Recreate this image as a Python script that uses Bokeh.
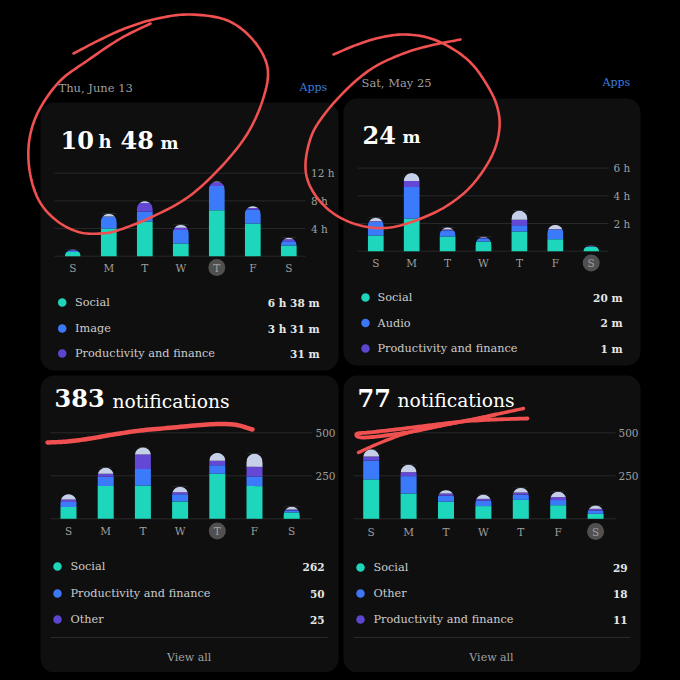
import numpy as np
from bokeh.embed import file_html
from bokeh.models import Range1d
from bokeh.plotting import figure
from bokeh.resources import INLINE
from bokeh.core.properties import value

FONT = "DejaVu Serif"
days = ["S", "M", "T", "W", "T", "F", "S"]

# --- panel values (stack order: first, second, third, remainder) ---
tl_social = [0.62, 4.00, 5.00, 1.83, 6.63, 4.72, 1.54]
tl_image = [0.22, 1.70, 1.46, 1.97, 3.52, 2.03, 0.63]
tl_prod = [0.08, 0.05, 1.24, 0.30, 0.52, 0.20, 0.29]
tl_other = [0.04, 0.37, 0.25, 0.43, 0.13, 0.28, 0.19]

tr_social = [1.13, 2.34, 1.06, 0.70, 1.42, 0.87, 0.33]
tr_audio = [0.97, 2.29, 0.43, 0.22, 0.46, 0.67, 0.03]
tr_prod = [0.07, 0.43, 0.08, 0.07, 0.39, 0.05, 0.02]
tr_other = [0.24, 0.58, 0.14, 0.05, 0.65, 0.31, 0.02]

bl_social = [68, 190, 194, 101, 262, 190, 37]
bl_prod = [29, 54, 95, 42, 50, 56, 11]
bl_other = [15, 18, 85, 12, 25, 56, 6]
bl_rest = [31, 35, 41, 31, 46, 76, 16]

br_social = [229, 147, 99, 74, 110, 79, 29]
br_other = [110, 101, 35, 31, 30, 30, 18]
br_prod = [23, 23, 13, 11, 13, 17, 11]
br_rest = [41, 43, 20, 24, 27, 31, 19]

tl_ticks, tl_tick_labels = [4, 8, 12], ["4 h", "8 h", "12 h"]
tr_ticks, tr_tick_labels = [2, 4, 6], ["2 h", "4 h", "6 h"]
bl_ticks, bl_tick_labels = [250, 500], ["250", "500"]
br_ticks, br_tick_labels = [250, 500], ["250", "500"]

tl_legend, tl_legend_values = ["Social", "Image", "Productivity and finance"], ["6 h 38 m", "3 h 31 m", "31 m"]
tr_legend, tr_legend_values = ["Social", "Audio", "Productivity and finance"], ["20 m", "2 m", "1 m"]
bl_legend, bl_legend_values = ["Social", "Productivity and finance", "Other"], ["262", "50", "25"]
br_legend, br_legend_values = ["Social", "Other", "Productivity and finance"], ["29", "18", "11"]

STACK = ["#1dd6bb", "#3b7bfb", "#6547d6", "#c5d0e8"]
DOTS = ["#1fd4b8", "#3c78f5", "#5d45d0"]
CARD = "#0f0f0f"
GRID = "#282828"
MUTED = "#9f9f9f"

panels = [
    dict(name="tl", series=[tl_social, tl_image, tl_prod, tl_other], c0=72.3, step=36.0, bw=15.7,
         base=255.7, k=6.92, ticks=tl_ticks, tick_labels=tl_tick_labels, gx=(54, 305), lx=310.5,
         day_y=267, hi=4, leg=tl_legend, legv=tl_legend_values, leg_y=[302, 328, 353],
         dot_x=61.7, txt_x=74.5, right=319),
    dict(name="tr", series=[tr_social, tr_audio, tr_prod, tr_other], c0=375.3, step=35.9, bw=15.7,
         base=250.7, k=13.85, ticks=tr_ticks, tick_labels=tr_tick_labels, gx=(357, 608), lx=613,
         day_y=262.5, hi=6, leg=tr_legend, legv=tr_legend_values, leg_y=[297, 322.5, 348],
         dot_x=365, txt_x=377, right=622),
    dict(name="bl", series=[bl_social, bl_prod, bl_other, bl_rest], c0=68.0, step=37.2, bw=16,
         base=518.3, k=0.172, ticks=bl_ticks, tick_labels=bl_tick_labels, gx=(50, 312), lx=315,
         day_y=530.5, hi=4, leg=bl_legend, legv=bl_legend_values, leg_y=[566, 593, 619],
         dot_x=57, txt_x=70, right=324),
    dict(name="br", series=[br_social, br_other, br_prod, br_rest], c0=370.7, step=37.4, bw=16,
         base=518.3, k=0.172, ticks=br_ticks, tick_labels=br_tick_labels, gx=(353, 615), lx=618,
         day_y=531, hi=6, leg=br_legend, legv=br_legend_values, leg_y=[567, 593, 619],
         dot_x=360, txt_x=373, right=627),
]

# The figure's default ranges read in page pixels of the shot (this page draws from its corner).
L, R, T, B = 0, 672, 0, 672
p = figure(width=R - L, height=B - T, x_range=Range1d(L, R), y_range=Range1d(B, T),
           output_backend="svg", toolbar_location=None, x_axis_type=None, y_axis_type=None,
           min_border=0, background_fill_color="#000000", border_fill_color="#000000",
           outline_line_color=None)
p.xgrid.visible = False
p.ygrid.visible = False


def txt(x, y, s, size, color=MUTED, style="normal", align="left", **kw):
    p.text(x=x if isinstance(x, list) else [x], y=y if isinstance(y, list) else [y],
           text=s if isinstance(s, list) else [s], text_font=value(FONT), text_font_size=f"{size}px",
           text_font_style=style, text_color=color, text_align=align, text_baseline="middle", **kw)


# cards
p.quad(left=[40, 343, 40, 343], right=[338, 640, 338, 640], top=[102, 98, 375, 375],
       bottom=[370, 365, 672, 672], fill_color=CARD, line_color=None, border_radius=14)

# dates & links
txt(58, 87, "Thu, June 13", 11.5)
txt(299, 87, "Apps", 11, color="#3b7ddd")
txt(361, 82, "Sat, May 25", 11.5)
txt(602, 82, "Apps", 11, color="#3b7ddd")

# headline numbers
txt(60, 139, "10", 24, "#ffffff", "bold")
txt(98, 141, "h", 18, "#ffffff", "bold")
txt(120, 139, "48", 24, "#ffffff", "bold")
txt(160, 142, "m", 17, "#ffffff", "bold")
txt(362, 134, "24", 24, "#ffffff", "bold")
txt(402, 136, "m", 17, "#ffffff", "bold")
txt(54, 397, "383", 24, "#ffffff", "bold")
txt(112, 401, "notifications", 18.7, "#ffffff")
txt(357, 397, "77", 24, "#ffffff", "bold")
txt(397, 400, "notifications", 18.7, "#ffffff")

for pn in panels:
    xn, yn = pn["name"] + "_x", pn["name"] + "_y"
    c0, step, base, k = pn["c0"], pn["step"], pn["base"], pn["k"]
    p.extra_x_ranges[xn] = Range1d((L - c0) / step, (R - c0) / step)
    p.extra_y_ranges[yn] = Range1d((base - B) / k, (base - T) / k)
    idx = list(range(len(days)))

    # value gridlines and baseline
    levels = [0] + pn["ticks"]
    p.segment(x0=[pn["gx"][0]] * len(levels), x1=[pn["gx"][1]] * len(levels), y0=levels, y1=levels,
              y_range_name=yn, line_color=GRID, line_width=1)
    txt([pn["lx"]] * len(pn["ticks"]), pn["ticks"], pn["tick_labels"], 10.5, y_range_name=yn)

    # stacked bars
    bottom = np.zeros(len(days))
    for vals, col in zip(pn["series"], STACK):
        top = bottom + np.array(vals, dtype=float)
        p.vbar(x=idx, bottom=bottom.tolist(), top=top.tolist(), width=pn["bw"] / step,
               fill_color=col, line_color=None, x_range_name=xn, y_range_name=yn)
        bottom = top

    # round the tops: card-coloured corner pieces computed from each bar's total
    w = pn["bw"] / 2 / step
    xs, ys = [], []
    theta = np.linspace(0, np.pi / 2, 12)
    for i, total in enumerate(bottom):
        ry = min(pn["bw"] / 2 / k, total)
        for sign in (-1, 1):
            ax = i + sign * w * np.cos(theta)
            ay = total - ry + ry * np.sin(theta)
            e = 0.6
            xs.append(ax.tolist() + [i + sign * (w + e / step)] * 2)
            ys.append(ay.tolist() + [total + e / k, total - ry])
    p.patches(xs=xs, ys=ys, fill_color=CARD, line_color=None, x_range_name=xn, y_range_name=yn)

    # weekday labels and the highlighted day
    p.scatter(x=[pn["hi"]], y=[pn["day_y"]], size=17, marker="circle", fill_color="#505050",
              line_color=None, x_range_name=xn)
    txt(idx, [pn["day_y"]] * len(days), days, 10.5, align="center", x_range_name=xn)

    # legend rows
    p.scatter(x=[pn["dot_x"]] * 3, y=pn["leg_y"], size=8.5, marker="circle", fill_color=DOTS, line_color=None)
    txt([pn["txt_x"]] * 3, pn["leg_y"], pn["leg"], 11.3, color="#cccccc")
    txt([pn["right"]] * 3, pn["leg_y"], pn["legv"], 10.5, color="#e6e6e6", style="bold", align="right")

# dividers and footers
p.segment(x0=[50, 353], x1=[327, 630], y0=[637, 637], y1=[637, 637], line_color="#2a2a2a", line_width=1)
txt([188.7, 491], [656.7, 656.7], ["View all", "View all"], 11, color="#a0a0a0", align="center")


# --- hand-drawn red marks (page pixels) ---
def smooth(pts, n=10):
    a = np.array(pts, dtype=float)
    a = np.vstack([2 * a[0] - a[1], a, 2 * a[-1] - a[-2]])
    out = []
    for i in range(1, len(a) - 2):
        for t in np.linspace(0, 1, n, endpoint=False):
            out.append(0.5 * ((2 * a[i]) + (a[i + 1] - a[i - 1]) * t
                              + (2 * a[i - 1] - 5 * a[i] + 4 * a[i + 1] - a[i + 2]) * t ** 2
                              + (3 * a[i] - a[i - 1] - 3 * a[i + 1] + a[i + 2]) * t ** 3))
    out.append(a[-2])
    out = np.array(out)
    return out[:, 0].tolist(), out[:, 1].tolist()


RED = "#f05050"
ring_tl = [(73, 53), (100, 39), (127, 27), (157, 18), (190, 14), (227, 20), (253, 40), (267, 67), (263, 97),
           (247, 133), (220, 167), (187, 197), (150, 217), (117, 230), (100, 233), (80, 232), (60, 223),
           (43, 207), (33, 187), (28, 160), (30, 133), (40, 107), (60, 80), (87, 60), (120, 38), (150, 23)]
ring_tr = [(333, 54), (357, 44), (380, 37), (403, 34), (427, 37), (450, 47), (470, 62), (485, 82), (496, 104),
           (499, 127), (492, 154), (473, 183), (450, 203), (423, 217), (390, 227), (360, 225), (333, 213),
           (313, 192), (305, 168), (310, 138), (323, 115), (347, 88), (373, 67), (403, 53), (430, 45), (460, 39)]
swipe_bl = [(47, 442), (67, 441), (90, 438), (113, 434), (140, 430), (173, 427), (207, 424), (233, 424), (252, 429)]
swipe_br_a = [(358, 452), (378, 443), (405, 433), (432, 427), (462, 421), (495, 414), (523, 408)]
swipe_br_b = [(527, 418), (495, 419), (462, 421), (428, 425), (395, 429), (368, 432), (357, 433), (357, 436),
              (365, 437), (385, 435), (412, 431), (445, 424), (478, 418), (495, 414)]

for pts, lw in [(ring_tl, 2.6), (ring_tr, 2.6), (swipe_bl, 4.5), (swipe_br_a, 3.4), (swipe_br_b, 3.8)]:
    sx, sy = smooth(pts)
    p.line(sx, sy, line_color=RED, line_width=lw, line_cap="round", line_join="round")

html = file_html(p, INLINE).replace("</head>", "<style>html,body{background:#000}</style></head>", 1)
open("out.html", "w").write(html)
